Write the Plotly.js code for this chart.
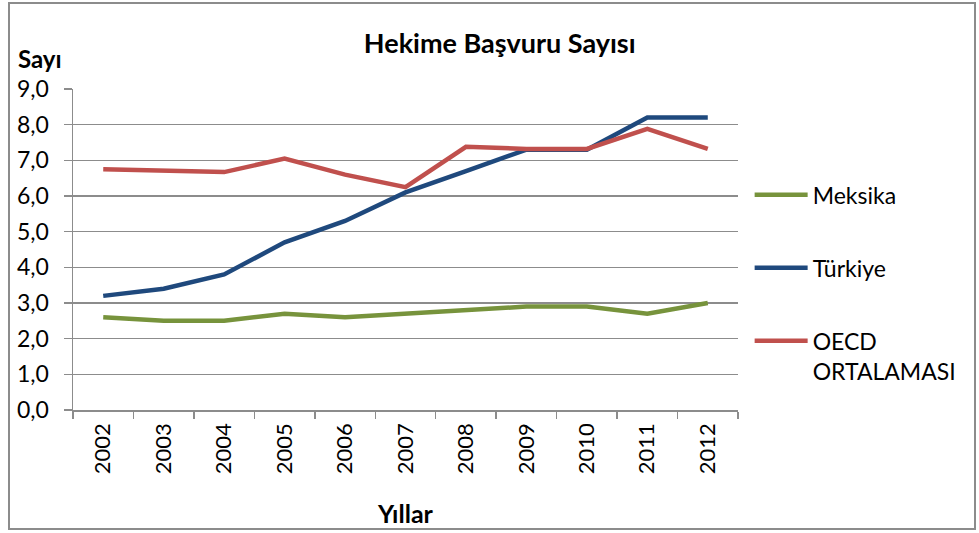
<!DOCTYPE html>
<html>
<head>
<meta charset="utf-8">
<script src="https://cdn.plot.ly/plotly-3.0.1.min.js"></script>
<style>
  html, body { margin: 0; padding: 0; background: #fff; }
  #chart { position: absolute; left: 8px; top: 2px; width: 964px; height: 524px; border: 2px solid #8c8c8c; }
</style>
</head>
<body>
<div id="chart"></div>
<script>
const years = ["2002","2003","2004","2005","2006","2007","2008","2009","2010","2011","2012"];
const meksika = [2.6, 2.5, 2.5, 2.7, 2.6, 2.7, 2.8, 2.9, 2.9, 2.7, 3.0];
const turkiye = [3.2, 3.4, 3.8, 4.7, 5.3, 6.1, 6.7, 7.3, 7.3, 8.2, 8.2];
const oecd = [6.75, 6.7, 6.67, 7.05, 6.6, 6.25, 7.38, 7.32, 7.32, 7.88, 7.32];
const seriesNames = ["Meksika", "Türkiye", "OECD<br>ORTALAMASI"];
const seriesColors = ["#77933C", "#1F497D", "#C0504D"];
const seriesValues = [meksika, turkiye, oecd];

const FONT = "Lato, 'Open Sans', sans-serif";

const traces = seriesValues.map((vals, i) => ({
  type: "scatter",
  mode: "lines",
  x: years,
  y: vals,
  name: seriesNames[i],
  legendgroup: "g" + i,
  line: { color: seriesColors[i], width: 4.5 },
  hoverinfo: "x+y+name"
}));

const layout = {
  width: 964,
  height: 524,
  margin: { l: 63, r: 233, t: 85, b: 118 },
  paper_bgcolor: "#fff",
  plot_bgcolor: "#fff",
  separators: ",.",
  font: { family: FONT, size: 23, color: "#000" },
  title: {
    text: "<b>Hekime Başvuru Sayısı</b>",
    font: { family: FONT, size: 27, color: "#000" },
    xref: "container", x: 0.508, xanchor: "center",
    yref: "container", y: 0.925, yanchor: "middle"
  },
  xaxis: {
    type: "category",
    range: [-0.5, 10.5],
    tickson: "boundaries",
    ticks: "outside",
    ticklen: 7,
    tickwidth: 1.5,
    tickcolor: "#8c8c8c",
    showline: true,
    linecolor: "#8c8c8c",
    linewidth: 1.5,
    showgrid: false,
    tickangle: -90,
    ticklabelstandoff: 3,
    tickfont: { family: FONT, size: 22 },
    title: { text: "<b>Yıllar</b>", font: { family: FONT, size: 25 }, standoff: 34 },
    automargin: false
  },
  yaxis: {
    range: [0, 9],
    dtick: 1,
    tickformat: ".1f",
    ticks: "outside",
    ticklen: 8,
    tickwidth: 1.5,
    tickcolor: "#8c8c8c",
    showline: true,
    linecolor: "#8c8c8c",
    linewidth: 1.5,
    showgrid: true,
    gridcolor: "#8c8c8c",
    gridwidth: 1.5,
    zeroline: false,
    ticklabelstandoff: 10,
    tickfont: { family: FONT, size: 23 },
    automargin: false
  },
  legend: {
    x: 1.0175, xanchor: "left",
    y: 0.737, yanchor: "top",
    font: { family: FONT, size: 23 },
    tracegroupgap: 40,
    itemwidth: 53,
    valign: "top",
    bgcolor: "rgba(0,0,0,0)"
  },
  annotations: [{
    text: "<b>Sayı</b>",
    xref: "paper", yref: "paper",
    x: -0.085, y: 1.095,
    xanchor: "left", yanchor: "middle",
    showarrow: false,
    font: { family: FONT, size: 24, color: "#000" }
  }],
  showlegend: true
};

Plotly.newPlot("chart", traces, layout, { displayModeBar: false, staticPlot: true });
</script>
</body>
</html>
